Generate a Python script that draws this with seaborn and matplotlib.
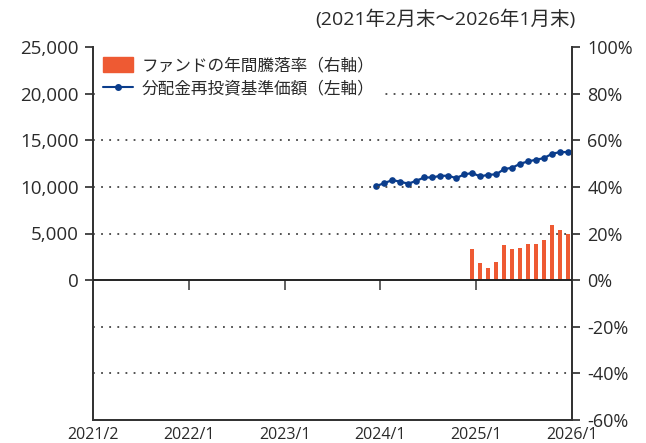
import numpy as np
import pandas as pd
import matplotlib
matplotlib.use("Agg")
import matplotlib.pyplot as plt
import seaborn as sns
from matplotlib.lines import Line2D
from matplotlib.patches import Patch

sns.set_style("white")
plt.rcParams["font.family"] = ["Open Sans", "Noto Sans CJK JP", "DejaVu Sans"]

# monthly axis: 2021/2 .. 2026/1
months = pd.period_range("2021-02", "2026-01", freq="M")
tick_labels = ["2021/2", "2022/1", "2023/1", "2024/1", "2025/1", "2026/1"]

# 分配金再投資基準価額 (left axis), 2024/1 .. 2026/1
nav_start = "2024-01"
nav_values = [10090, 10410, 10730, 10550, 10340, 10660, 11010, 11010, 11190,
              11190, 10940, 11340, 11480, 11120, 11300, 11340, 11910, 12050,
              12480, 12730, 12910, 13090, 13550, 13730, 13730]

# ファンドの年間騰落率 (right axis, %), 2025/1 .. 2026/1
ret_start = "2025-01"
ret_values = [13.3, 7.4, 5.2, 7.7, 15.0, 13.3, 13.7, 15.5, 15.5, 17.2,
              23.6, 21.5, 20.0]

LINE_C = "#0b3d8c"
BAR_C = "#ee5a33"
TXT_C = "#2a2a2a"


def month_pos(start, n):
    i0 = list(months.strftime("%Y-%m")).index(start)
    return np.arange(i0, i0 + n) + 0.5


nav_x = month_pos(nav_start, len(nav_values))
ret_x = month_pos(ret_start, len(ret_values))

fig = plt.figure(figsize=(6.46, 4.43), dpi=100)
ax = fig.add_axes([93 / 646, 1 - 420 / 443, (572 - 93) / 646, (420 - 47) / 443])
ax2 = ax.twinx()

sns.lineplot(x=nav_x, y=nav_values, ax=ax, color=LINE_C, marker="o",
             markersize=4.8, markeredgewidth=0, linewidth=1.6, zorder=5)
sns.barplot(x=ret_x, y=ret_values, ax=ax2, color=BAR_C, native_scale=True,
            saturation=1, linewidth=0, zorder=3)
for p in ax2.patches:
    cx = p.get_x() + p.get_width() / 2
    p.set_width(0.56)
    p.set_x(cx - 0.28)

ax.set_xlim(0, len(months))
ax.set_ylim(-15000, 25000)
ax.set_yticks(np.arange(0, 25001, 5000))
ax.set_yticklabels([f"{v:,}" for v in range(0, 25001, 5000)])
ax2.set_ylim(-60, 100)
ax2.set_yticks(np.arange(-60, 101, 20))
ax2.set_yticklabels([f"{v}%" for v in range(-60, 101, 20)])

ax.set_xticks(np.arange(0, len(months) + 1, 12))
ax.set_xticklabels(tick_labels)

# gridlines (dotted) on right axis scale
for v in [80, 60, 40, 20, -20, -40]:
    ax2.axhline(v, color="#444444", linestyle=(0, (1, 3.5)), linewidth=1.3, zorder=1)
ax2.axhline(0, color="#222222", linewidth=1.4, zorder=4)

# tick marks hanging below the zero line
sec = ax.secondary_xaxis(0.375)
sec.set_xticks(np.arange(12, len(months), 12))
sec.tick_params(axis="x", direction="out", length=7, width=1.3, color="#555555",
                labelbottom=False, labeltop=False)
sec.spines["bottom"].set_visible(False)

for a in (ax, ax2):
    a.spines["top"].set_visible(False)
    for s in ["left", "right", "bottom"]:
        a.spines[s].set_linewidth(1.3)
        a.spines[s].set_color("#333333")
    a.set_xlabel("")
    a.set_ylabel("")

ax.tick_params(axis="y", direction="out", length=6, width=1.2, colors=TXT_C,
               labelsize=13.5, pad=4)
ax.tick_params(axis="x", length=0, labelsize=11.5, colors=TXT_C, pad=5)
ax2.tick_params(axis="y", direction="out", length=6, width=1.2, colors=TXT_C,
                labelsize=13, pad=5)

handles = [Patch(color=BAR_C),
           Line2D([], [], color=LINE_C, marker="o", markersize=4, linewidth=1.5)]
labels = ["ファンドの年間騰落率（右軸）", "分配金再投資基準価額（左軸）"]
leg = ax2.legend(handles, labels, loc="upper left", bbox_to_anchor=(0.0, 1.0),
                 frameon=True, framealpha=1, edgecolor="none", fontsize=12,
                 handlelength=1.8, handleheight=1.0, handletextpad=0.5,
                 labelspacing=0.35, borderaxespad=0.2, labelcolor=TXT_C)

fig.text(575 / 646, 1 - 19 / 443, "(2021年2月末～2026年1月末)", ha="right",
         va="center", fontsize=14, color=TXT_C)

fig.savefig("out.png", dpi=100)
